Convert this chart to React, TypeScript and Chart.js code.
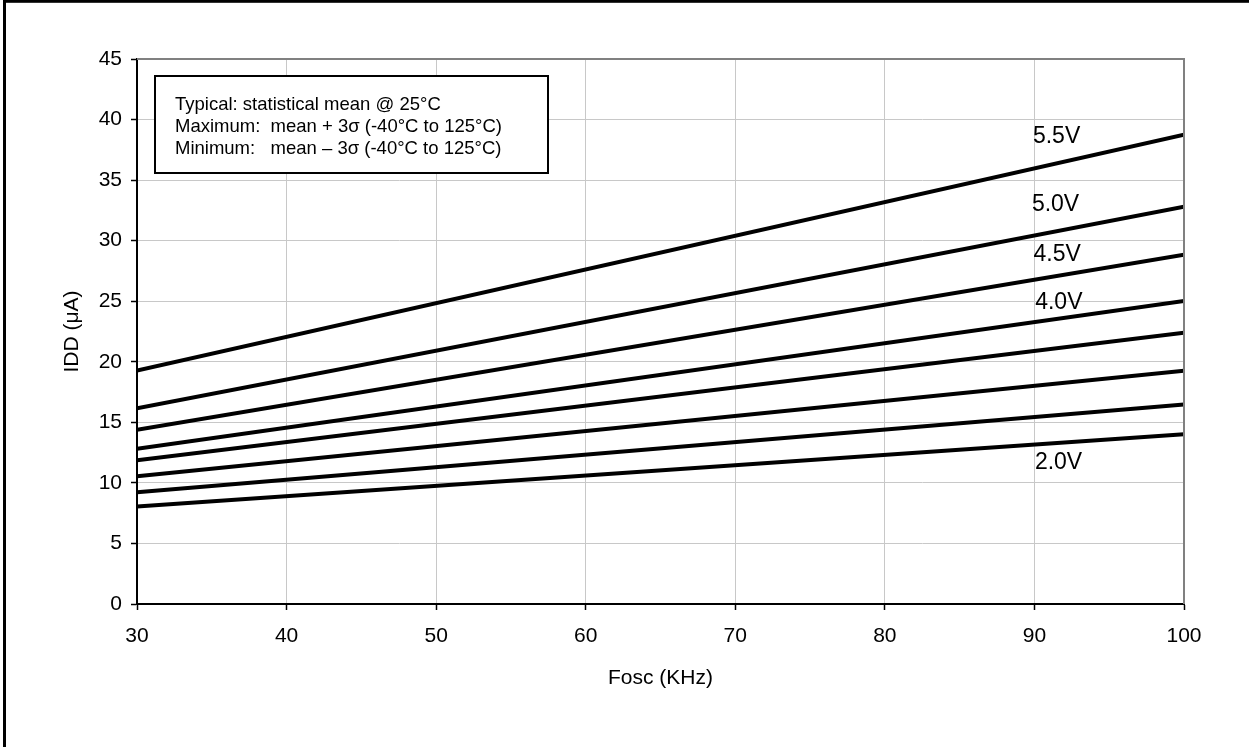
import React, { useEffect, useRef } from 'react';
import { Chart, registerables } from 'chart.js';

Chart.register(...registerables);

// ---- data ----
const FREQ_KHZ = [30, 100];
const SERIES_NAMES = ['5.5V', '5.0V', '4.5V', '4.0V', '3.5V', '3.0V', '2.5V', '2.0V'];
const IDD_5V5 = [19.27, 38.75];
const IDD_5V0 = [16.17, 32.8];
const IDD_4V5 = [14.38, 28.84];
const IDD_4V0 = [12.81, 25.03];
const IDD_3V5 = [11.87, 22.39];
const IDD_3V0 = [10.55, 19.25];
const IDD_2V5 = [9.23, 16.47];
const IDD_2V0 = [8.04, 14.02];
const SERIES_VALUES = [IDD_5V5, IDD_5V0, IDD_4V5, IDD_4V0, IDD_3V5, IDD_3V0, IDD_2V5, IDD_2V0];

const CURVE_LABELS = ['5.5V', '5.0V', '4.5V', '4.0V', '2.0V'];
const CURVE_LABEL_X = [89.9, 89.83, 89.94, 90.05, 90.03];
const CURVE_LABEL_Y = [38.76, 33.14, 29.0, 25.06, 11.85];

const X_MIN = 30;
const X_MAX = 100;
const X_STEP = 10;
const Y_MIN = 0;
const Y_MAX = 45;
const Y_STEP = 5;

const NOTE_LINES = [
  'Typical: statistical mean @ 25°C',
  'Maximum:  mean + 3σ (-40°C to 125°C)',
  'Minimum:   mean – 3σ (-40°C to 125°C)',
];

const FONT = '"Liberation Sans", Arial, Helvetica, sans-serif';

const decorPlugin = {
  id: 'decor',
  afterDraw(chart: any) {
    const { ctx, chartArea } = chart;
    const { left, right, top, bottom } = chartArea;
    ctx.save();
    // plot area top/right gray frame
    ctx.strokeStyle = '#808080';
    ctx.lineWidth = 2;
    ctx.beginPath();
    ctx.moveTo(left, top);
    ctx.lineTo(right, top);
    ctx.lineTo(right, bottom);
    ctx.stroke();

    // outer border (cropped frame)
    ctx.strokeStyle = '#000';
    ctx.lineWidth = 3;
    ctx.strokeRect(4.5, 1.3, 3000, 3000);

    // note box
    const bx = left + 18;
    const by = top + 17;
    const bw = 393;
    const bh = 97;
    ctx.fillStyle = '#fff';
    ctx.fillRect(bx, by, bw, bh);
    ctx.strokeStyle = '#000';
    ctx.lineWidth = 2;
    ctx.strokeRect(bx, by, bw, bh);
    ctx.fillStyle = '#000';
    ctx.font = `18.5px ${FONT}`;
    ctx.textAlign = 'left';
    ctx.textBaseline = 'middle';
    NOTE_LINES.forEach((t, i) => {
      ctx.fillText(t, bx + 20, by + 28.5 + i * 22);
    });

    // curve labels
    const xs = chart.scales.x;
    const ys = chart.scales.y;
    ctx.font = `23px ${FONT}`;
    CURVE_LABELS.forEach((t, i) => {
      ctx.fillText(t, xs.getPixelForValue(CURVE_LABEL_X[i]), ys.getPixelForValue(CURVE_LABEL_Y[i]) + 2);
    });
    ctx.restore();
  },
};

export default function App() {
  const ref = useRef<HTMLCanvasElement>(null);

  useEffect(() => {
    const canvas = ref.current;
    if (!canvas) return;
    const chart = new Chart(canvas, {
      type: 'line',
      data: {
        datasets: SERIES_VALUES.map((vals, i) => ({
          label: SERIES_NAMES[i],
          data: FREQ_KHZ.map((x, j) => ({ x, y: vals[j] })),
          borderColor: '#000',
          backgroundColor: '#000',
          borderWidth: 4,
          pointRadius: 0,
          fill: false,
          tension: 0,
        })),
      },
      options: {
        animation: false,
        responsive: false,
        devicePixelRatio: 1,
        layout: { padding: { left: 0, right: 65, top: 59, bottom: 0 } },
        plugins: {
          legend: { display: false },
          tooltip: { enabled: false },
        },
        scales: {
          x: {
            type: 'linear',
            min: X_MIN,
            max: X_MAX,
            afterFit: (s: any) => {
              s.height = 143;
            },
            ticks: {
              stepSize: X_STEP,
              color: '#000',
              font: { family: FONT, size: 21 },
              padding: 14,
              maxRotation: 0,
            },
            grid: {
              color: '#c8c8c8',
              lineWidth: 1,
              tickColor: '#000',
              tickLength: 6,
              tickWidth: 1.5,
            },
            border: { color: '#000', width: 2 },
            title: {
              display: true,
              text: 'Fosc (KHz)',
              color: '#000',
              font: { family: FONT, size: 21 },
              padding: { top: 0, bottom: 56 },
            },
          },
          y: {
            type: 'linear',
            min: Y_MIN,
            max: Y_MAX,
            afterFit: (s: any) => {
              s.width = 137;
            },
            ticks: {
              stepSize: Y_STEP,
              color: '#000',
              font: { family: FONT, size: 21 },
              padding: 9,
            },
            grid: {
              color: '#c8c8c8',
              lineWidth: 1,
              tickColor: '#000',
              tickLength: 6,
              tickWidth: 1.5,
            },
            border: { color: '#000', width: 2 },
            title: {
              display: true,
              text: 'IDD (μA)',
              color: '#000',
              font: { family: FONT, size: 21 },
              padding: { top: 59.4, bottom: 0 },
            },
          },
        },
      },
      plugins: [decorPlugin],
    } as any);
    return () => chart.destroy();
  }, []);

  return (
    <div
      style={{
        position: 'fixed',
        left: 0,
        top: 0,
        width: 1249,
        height: 747,
        background: '#fff',
        overflow: 'hidden',
      }}
    >
      <canvas ref={ref} width={1249} height={747} style={{ display: 'block' }} />
    </div>
  );
}
